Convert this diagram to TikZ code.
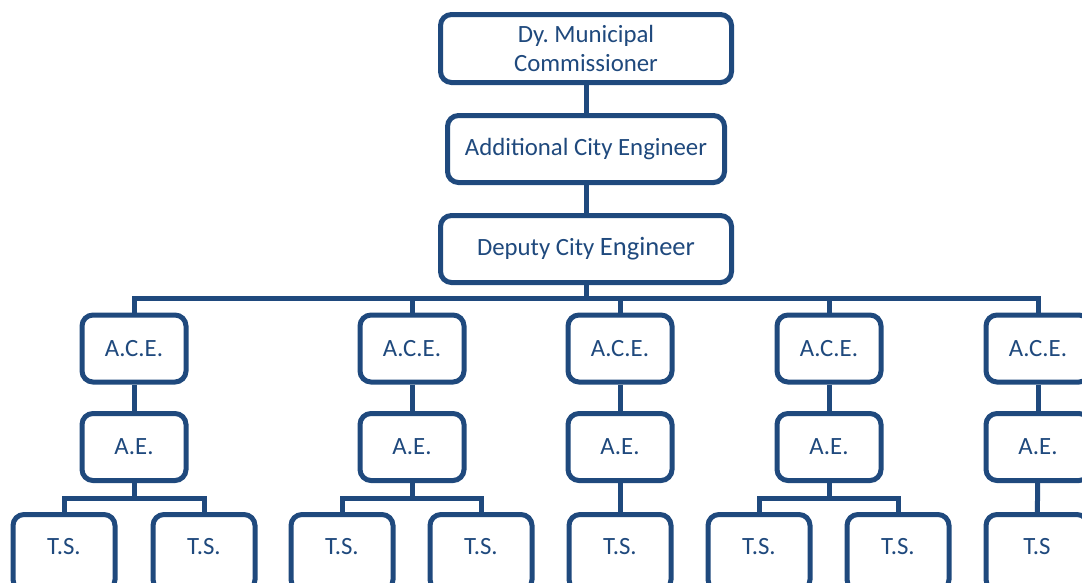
\documentclass[tikz,border=0pt]{standalone}
\usepackage{fontspec}
\setmainfont{Carlito}
\frenchspacing
\definecolor{orgblue}{RGB}{31,73,125}
\tikzset{
  post/.style={draw=orgblue, line width=5pt, rounded corners=11pt, fill=white,
    text=orgblue, align=center, inner sep=0pt,
    font=\fontsize{24.8}{29}\selectfont},
  bigpost/.style={post, minimum width=291pt, minimum height=67pt},
  smallpost/.style={post, minimum width=104pt, minimum height=67pt},
  tspost/.style={post, minimum width=102pt, minimum height=76pt, text depth=12pt},
  link/.style={draw=orgblue, line width=5pt},
}
\begin{document}
\begin{tikzpicture}[x=1pt,y=-1pt]
  \useasboundingbox (0,0) rectangle (1082,582);
  \clip (0,0) rectangle (1082,582);
  % top chain
  \node[bigpost, minimum height=68pt] (dmc) at (586,48.5) {Dy. Municipal\\Commissioner};
  \node[bigpost, minimum width=277pt] (ace) at (586,149) {Additional City Engineer};
  \node[bigpost] (dce) at (586,249) {Deputy City {\fontsize{26.5}{29}\selectfont Engineer}};
  \draw[link] (dmc) -- (ace);
  \draw[link] (ace) -- (dce);
  % columns
  \foreach \x/\n in {134/1,412/2,620/3,829/4,1038/5} {%
    \node[smallpost] (ace\n) at (\x,348.5) {A.C.E.};
    \node[smallpost] (ae\n) at (\x,447) {A.E.};
    \draw[link] (ace\n) -- (ae\n);
    \coordinate (fork\n) at (\x,498);
  }
  \coordinate (bus) at (586,298);
  \draw[link] (dce) -- (bus);
  \draw[link] (ace1) |- (bus) -| (ace5);
  \foreach \n in {2,3,4} {%
    \draw[link] (ace\n) -- (ace\n |- bus);
  }
  % technical supervisors
  \node[tspost] (ts1a) at (64,552.5) {T.S.};
  \node[tspost] (ts1b) at (204,552.5) {T.S.};
  \node[tspost] (ts2a) at (342,552.5) {T.S.};
  \node[tspost] (ts2b) at (481,552.5) {T.S.};
  \node[tspost] (ts3) at (620,552.5) {T.S.};
  \node[tspost] (ts4a) at (759,552.5) {T.S.};
  \node[tspost] (ts4b) at (898,552.5) {T.S.};
  \node[tspost] (ts5) at (1037,552.5) {T.S};
  \foreach \n/\a/\b in {1/ts1a/ts1b,2/ts2a/ts2b,4/ts4a/ts4b} {%
    \draw[link] (ae\n) -- (fork\n);
    \draw[link] (\a) |- (fork\n) -| (\b);
  }
  \draw[link] (ae3) -- (ts3);
  \draw[link] (ae5) -- (ts5);
\end{tikzpicture}
\end{document}
